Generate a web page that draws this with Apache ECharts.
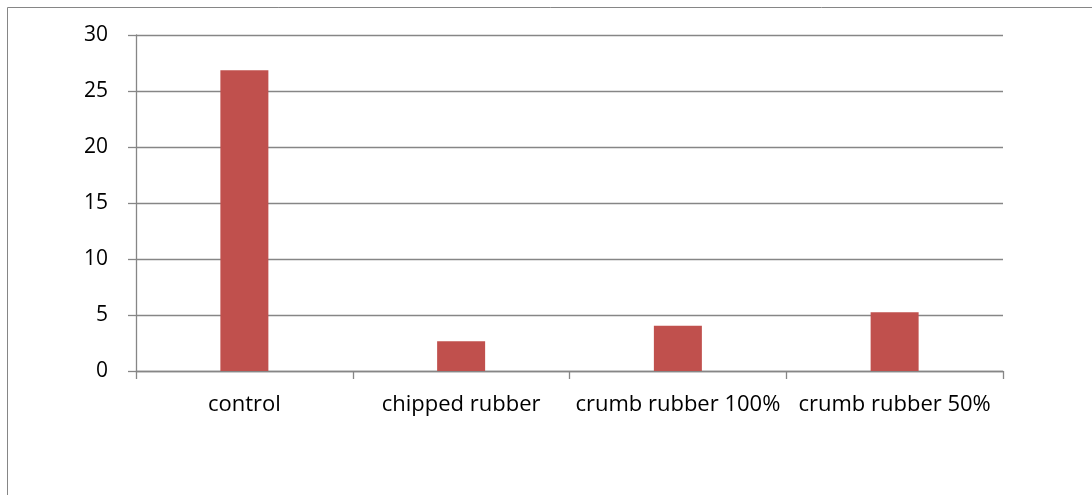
<!DOCTYPE html>
<html>
<head>
<meta charset="utf-8">
<script src="https://cdn.jsdelivr.net/npm/echarts@6/dist/echarts.min.js"></script>
<style>
  html, body { margin: 0; padding: 0; background: #fff; }
  #chart { width: 1092px; height: 495px; }
</style>
</head>
<body>
<div id="chart"></div>
<script>
// Categories and measured values
const categories = ['control', 'chipped rubber', 'crumb rubber 100%', 'crumb rubber 50%'];
const values = [26.85, 2.65, 4.05, 5.25];
const yTicks = { min: 0, max: 30, interval: 5 };

const axisGray = '#868686';
const labelFont = '"Open Sans", "Liberation Sans", sans-serif';

const chart = echarts.init(document.getElementById('chart'), null, { renderer: 'canvas' });
chart.setOption({
  animation: false,
  backgroundColor: '#ffffff',
  graphic: [{
    type: 'rect',
    shape: { x: 7.5, y: 7.5, width: 1200, height: 600 },
    style: { fill: 'none', stroke: axisGray, lineWidth: 1 },
    silent: true
  }],
  grid: { left: 136, top: 35, right: 89, bottom: 124, containLabel: false },
  xAxis: {
    type: 'category',
    data: categories,
    boundaryGap: true,
    axisLine: { show: true, lineStyle: { color: axisGray, width: 1.3 } },
    axisTick: { show: true, length: 8, lineStyle: { color: axisGray, width: 1.3 } },
    axisLabel: { color: '#000', fontFamily: labelFont, fontSize: 22, margin: 23, interval: 0 },
    splitLine: { show: false }
  },
  yAxis: {
    type: 'value',
    min: yTicks.min,
    max: yTicks.max,
    interval: yTicks.interval,
    axisLine: { show: true, lineStyle: { color: axisGray, width: 1.3 } },
    axisTick: { show: true, length: 8, inside: false, lineStyle: { color: axisGray, width: 1.3 } },
    axisLabel: { color: '#000', fontFamily: labelFont, fontSize: 21, margin: 28 },
    splitLine: { show: true, lineStyle: { color: axisGray, width: 1.3 } }
  },
  series: [{
    type: 'bar',
    data: values,
    barWidth: 48,
    itemStyle: { color: '#C0504D' }
  }]
});
</script>
</body>
</html>
